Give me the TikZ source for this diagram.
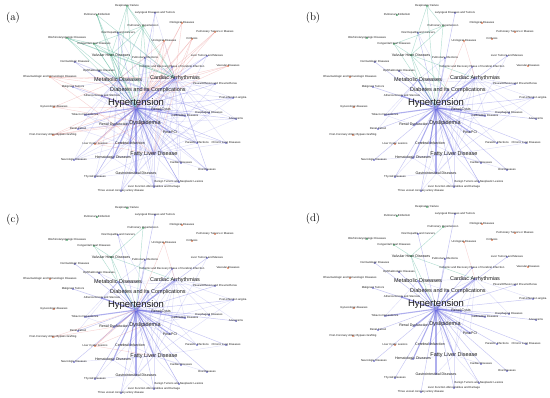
\documentclass[tikz,border=0pt]{standalone}
\usepackage{fontspec}
\setsansfont{Liberation Sans}
\pgfdeclarelayer{background}
\pgfsetlayers{background,main}
\definecolor{EB}{HTML}{6060DC}
\definecolor{EG}{HTML}{3AA889}
\definecolor{ER}{HTML}{E06A6A}
\definecolor{NB}{HTML}{4646C0}
\definecolor{NG}{HTML}{1E9A4A}
\definecolor{NR}{HTML}{D9501A}
\definecolor{TX}{HTML}{1A1A1A}
\tikzset{
 x=1pt,y=-1pt,
 dotb/.style={circle,inner sep=0pt,minimum size=1.9pt,fill=NB},
 dotg/.style={circle,inner sep=0pt,minimum size=1.9pt,fill=NG},
 dotr/.style={circle,inner sep=0pt,minimum size=1.9pt,fill=NR},
 tl/.style={font=\sffamily\fontsize{2.8}{3}\selectfont,inner sep=0pt,text=TX},
 ml/.style={font=\sffamily\fontsize{3.6}{4}\selectfont,inner sep=0pt,text=TX},
 bl/.style={font=\sffamily\fontsize{5.5}{6}\selectfont,inner sep=0pt,text=TX},
 hl/.style={font=\sffamily\fontsize{9.5}{10}\selectfont,inner sep=0pt,text=TX},
 plabel/.style={font=\rmfamily\fontsize{11}{12}\selectfont,inner sep=0pt},
 hubstrong/.style={draw=EB,draw opacity=.5,line width=1.1pt},
 hubmid/.style={draw=EB,draw opacity=.35,line width=.5pt},
 webline/.style={draw=EB,draw opacity=.2,line width=.45pt},
 greenline/.style={draw=EG,draw opacity=.38,line width=.45pt},
 redline/.style={draw=ER,draw opacity=.3,line width=.4pt},
}
\newcommand\Nd[5]{\node[#1,label={[#2]center:#5}] (#3) at (#4) {};}
\newcommand\allnodes{%
 \Nd{dotg}{tl}{resp}{127,6}{Respiratory Failure}
 \Nd{dotb}{tl}{lar}{155,13}{Laryngeal Diseases and Tumors}
 \Nd{dotg}{tl}{pe}{97,15}{Pulmonary Embolism}
 \Nd{dotg}{tl}{ph}{143,26}{Pulmonary Hypertension}
 \Nd{dotr}{tl}{oto}{182,23}{Otological Diseases}
 \Nd{dotr}{tl}{ptm}{215,32}{Pulmonary Tumors or Masses}
 \Nd{dotb}{tl}{vh}{118,33}{Viral Hepatitis and Cancers}
 \Nd{dotg}{tl}{orl}{67,38}{Otorhinolaryngologic Diseases}
 \Nd{dotr}{tl}{uro}{164,41}{Urological Diseases}
 \Nd{dotr}{tl}{cir}{192,39}{Cirrhosis}
 \Nd{dotg}{tl}{chd}{94,44}{Congenital Heart Diseases}
 \Nd{dotg}{ml}{vhd}{111,55}{Valvular Heart Diseases}
 \Nd{dotb}{tl}{ltm}{207,56}{Liver Tumors and Masses}
 \Nd{dotb}{tl}{pi}{145,58}{Pulmonary Infections}
 \Nd{dotb}{tl}{derm}{75,62}{Dermatologic Diseases}
 \Nd{dotr}{tl}{vas}{228,66}{Vascular Diseases}
 \Nd{dotb}{tl}{isc}{172,67}{Ischemic and Recovery Phase of Cerebral Infarction}
 \Nd{dotb}{tl}{oph}{99,71}{Ophthalmologic Diseases}
 \Nd{dotr}{tl}{rheu}{50,77}{Rheumatologic and Immunologic Diseases}
 \Nd{dotb}{bl}{met}{118,80}{Metabolic Diseases}
 \Nd{dotb}{bl}{ca}{175,78}{Cardiac Arrhythmias}
 \Nd{dotb}{tl}{mal}{73,87}{Malignant Tumors}
 \Nd{dotb}{tl}{pleu}{215,84}{Pleural Effusion and Pneumothorax}
 \Nd{dotb}{bl}{dia}{148,90}{Diabetes and its Complications}
 \Nd{dotb}{tl}{ath}{102,96}{Atherosclerosis and Stenosis}
 \Nd{dotb}{tl}{pia}{233,98}{Post-infarction angina}
 \Nd{dotr}{tl}{gyn}{54,107}{Gynecologic diseases}
 \node[dotb,label={[hl,yshift=5pt]center:Hypertension}] (hyp) at (136,108) {};
 \Nd{dotb}{ml}{rcy}{161,110}{Renal Cysts}
 \Nd{dotb}{tl}{eso}{209,113}{Esophageal Diseases}
 \Nd{dotb}{tl}{gall}{185,116}{Gallbladder Diseases}
 \Nd{dotb}{tl}{tob}{85,115}{Tobacco Dependence}
 \Nd{dotb}{tl}{aneu}{236,119}{Aneurysms}
 \Nd{dotb}{bl}{dys}{145,123}{Dyslipidemia}
 \Nd{dotb}{ml}{rd}{114,125}{Renal Dysfunction}
 \Nd{dotb}{tl}{rcal}{78,129}{Renal Calculi}
 \Nd{dotb}{ml}{pci}{170,132}{Post-PCI}
 \Nd{dotr}{tl}{cabg}{53,135}{Post-Coronary Artery Bypass Grafting}
 \Nd{dotb}{ml}{ci}{130,143}{Cerebral Infarction}
 \Nd{dotb}{tl}{para}{197,143}{Parasitic Infections}
 \Nd{dotb}{tl}{clung}{226,143}{Chronic Lung Diseases}
 \Nd{dotr}{tl}{lcl}{95,144}{Liver Cystic Lesions}
 \Nd{dotb}{bl}{fld}{154,154}{Fatty Liver Disease}
 \Nd{dotb}{ml}{hema}{113,158}{Hematologic Diseases}
 \Nd{dotb}{tl}{neur}{74,160}{Neurologic Diseases}
 \Nd{dotb}{tl}{card}{181,163}{Cardiac Diseases}
 \Nd{dotb}{tl}{oral}{207,170}{Oral Diseases}
 \Nd{dotb}{ml}{gi}{136,173}{Gastrointestinal Diseases}
 \Nd{dotb}{tl}{thy}{95,177}{Thyroid Diseases}
 \Nd{dotb}{tl}{ben}{179,182}{Benign Tumors and Neoplastic Lesions}
 \Nd{dotb}{tl}{lfa}{154,187}{Liver Function Abnormalities and Damage}
 \Nd{dotb}{tl}{tvd}{121,191}{Three vessel coronary artery disease}
}
\def\hubS{met,dia,ca,dys,fld,rd,pci,gi,ci,hema,ath,rcy,gall,tob}
\def\hubM{lfa,ben,card,rcal,neur,thy,tvd,eso,isc,pi,oph,derm,mal,vh,lar,ltm,pleu,para,clung,oral,aneu,pia}
\def\webA{met/dia,met/ca,dia/ca,dia/dys,dys/fld,met/fld,dia/fld,ca/fld,met/dys,ca/dys,dys/pci,fld/gi,fld/lfa,fld/ben,fld/card,fld/hema,dys/rd,dia/rd,met/ath,ca/pci,ca/isc,fld/rcy,dys/ci,fld/ci,fld/pci,dys/gall,dys/rcy,dia/pci,met/tob,met/oph,met/derm,met/mal,dia/ath,ca/pleu,ca/pia,ca/ltm,ca/aneu,ca/eso,dia/para,fld/oral,fld/clung,gi/lfa,gi/hema,gi/ben,dys/thy,dys/neur,rd/hema,ci/hema,ci/gi,fld/tvd,ca/gall,dia/gall,pci/card,dys/lfa,fld/ath,met/pi,ca/pi,dia/vh,met/vh,ca/lar,met/rcal,dys/rcal,fld/eso,fld/para,dys/aneu,dys/pia,gi/thy,fld/thy,rd/rcal,rd/tob,ci/neur,gi/tvd,ben/lfa,dys/card,dys/ben,dia/ci,dia/gi,dia/hema,ca/ci,ca/rd,met/rd,met/gi,met/hema,met/ci,dia/pleu,met/isc,dys/para,dys/clung,fld/aneu,ca/oral,dia/eso,pci/para,rcy/gall,met/neur,dia/thy,ca/ben,met/lfa,pleu/met,pia/dia,pia/fld,aneu/dia,tvd/dys,lfa/dia,oral/dys,clung/ca,neur/fld,thy/met,rcal/fld,tob/fld,pleu/fld,ltm/fld,ltm/dia,isc/fld,isc/dys,derm/dia,oph/dia,mal/dys,vh/ca,lar/dia,pi/dys,para/ca,eso/met,ben/dys,card/ca,oral/ca,tvd/ca,lfa/ca,hema/ca,gi/ca,gi/dys,ci/ca}
\def\webB{met/dia,met/ca,dia/ca,dia/dys,dys/fld,met/fld,dia/fld,ca/fld,met/dys,ca/dys,dys/pci,fld/gi,fld/lfa,fld/ben,fld/card,fld/hema,dys/rd,dia/rd,met/ath,ca/pci,ca/isc,fld/rcy,dys/ci,fld/ci,dys/gall,met/tob,met/oph,ca/pleu,ca/pia,ca/aneu,dia/para,fld/oral,gi/lfa,gi/hema,dys/thy,ci/gi,fld/tvd,ca/gall,met/pi,dia/vh,met/rcal,dys/pia,fld/clung,ca/eso,gi/thy,rd/tob,pleu/met,pia/fld,tvd/dys,neur/fld,ltm/fld,isc/dys,ben/dys,gi/ca}
\def\webD{met/dia,met/ca,dia/ca,dia/dys,dys/fld,met/fld,ca/fld,met/dys,ca/dys,dys/pci,fld/gi,fld/lfa,fld/ben,fld/hema,dys/rd,ca/pci,fld/rcy,dys/ci,met/tob,ca/pia,ca/eso,fld/card}
\def\greenA{vhd/ca,vhd/hyp,vhd/met,vhd/chd,vhd/ph,vhd/resp,vhd/orl,vhd/pe,vhd/dia,chd/ph,chd/hyp,chd/ca,chd/met,ph/resp,ph/hyp,ph/ca,ph/dia,pe/hyp,pe/ca,resp/hyp,resp/ca,resp/met,orl/hyp,orl/met,orl/ca,chd/orl,pe/met,vhd/dys,ph/met}
\def\greenB{vhd/ca,vhd/hyp,vhd/met,vhd/chd,vhd/ph,vhd/resp,chd/ph,ph/resp,ph/hyp,chd/hyp,resp/hyp,vhd/dia}
\def\greenC{vhd/ca,vhd/hyp,vhd/met,vhd/chd,vhd/ph,chd/hyp,ph/hyp}
\def\greenD{vhd/ca,vhd/hyp,vhd/met,vhd/chd,vhd/ph}
\def\redA{uro/hyp,uro/ca,uro/dia,uro/met,oto/hyp,oto/ca,cir/hyp,cir/fld,cir/ca,ptm/hyp,ptm/ca,vas/hyp,vas/ca,vas/dia,rheu/hyp,rheu/met,rheu/dia,rheu/ca,rheu/fld,gyn/hyp,gyn/dys,gyn/met,cabg/hyp,cabg/ca,cabg/dys,lcl/hyp,lcl/fld,lcl/dys,lcl/rd,uro/fld,cir/dia,oto/dia,ptm/dia,lcl/ci,cabg/rd}
\def\redB{uro/ca,uro/hyp}
\def\redC{uro/ca,uro/hyp,lcl/hyp,lcl/rd,lcl/dys,cabg/rd,cabg/hyp,lcl/fld}
\def\redD{uro/ca}
\newcommand\panel[6]{%
 \begin{scope}[shift={#1},name prefix=#2-]
  \allnodes
  \node[plabel] (lab) at (13,18) {#3};
  \begin{pgfonlayer}{background}
   \foreach \a/\b in #4 \draw[webline] (\a) -- (\b);
   \foreach \b in \hubM \draw[hubmid] (hyp) -- (\b);
   \foreach \b in \hubS \draw[hubstrong] (hyp) -- (\b);
   \foreach \a/\b in #5 \draw[greenline] (\a) -- (\b);
   \foreach \a/\b in #6 \draw[redline] (\a) -- (\b);
  \end{pgfonlayer}
 \end{scope}}
\begin{document}
\begin{tikzpicture}
\useasboundingbox (0,0) rectangle (550,398);
\panel{(0,0)}{A}{(a)}{\webA}{\greenA}{\redA}
\panel{(300,0)}{B}{(b)}{\webB}{\greenB}{\redB}
\panel{(0,202)}{C}{(c)}{\webB}{\greenC}{\redC}
\panel{(300,201)}{D}{(d)}{\webD}{\greenD}{\redD}
\end{tikzpicture}
\end{document}
